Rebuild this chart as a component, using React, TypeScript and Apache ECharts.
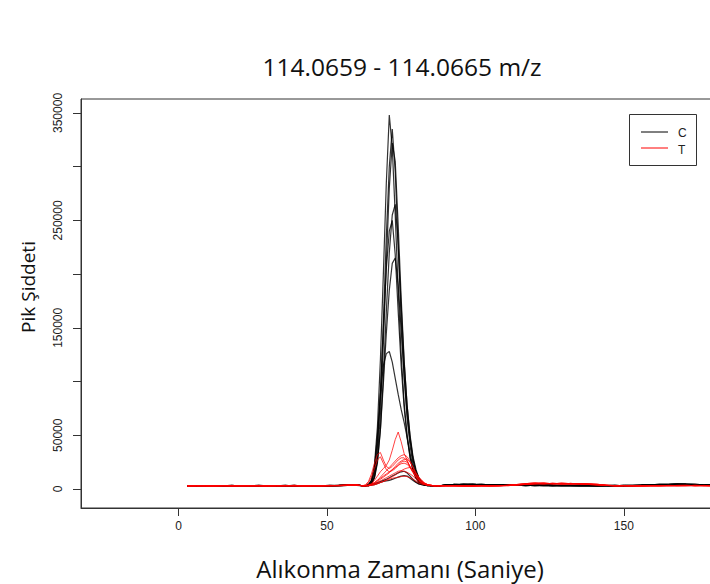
import React, { useEffect, useRef } from "react";
import * as echarts from "echarts";

// Retention-time grid (seconds): sparse on the flat stretches, 1 s across the peak.
const LEFT_T = [3, 6, 9, 12, 15, 18, 21, 24, 27, 30, 33, 36, 39, 42, 45, 48, 51, 54, 57, 60];
const PEAK_T = [62, 63, 64, 65, 66, 67, 68, 69, 70, 71, 72, 73, 74, 75, 76, 77, 78, 79, 80, 81, 82, 83, 84, 85, 86, 87, 88];
const RIGHT_T = [90, 93, 96, 99, 102, 105, 108, 111, 114, 117, 120, 123, 126, 129, 132, 135, 138, 141, 144, 147, 150, 153, 156, 159, 162, 165, 168, 171, 174, 177, 180];

// Baseline intensities (thousands) before the peak.
const BASE_L_A = [2.8, 3.1, 2.6, 3.0, 2.9, 3.3, 2.7, 3.0, 3.2, 2.8, 3.1, 2.9, 3.4, 2.7, 3.0, 3.2, 2.9, 3.3, 3.5, 3.6];
const BASE_L_B = [3.0, 2.7, 3.2, 2.9, 3.1, 2.6, 3.0, 2.8, 3.3, 3.0, 2.7, 3.1, 2.9, 3.2, 2.8, 3.0, 3.3, 3.1, 3.4, 3.8];
const BASE_L_C = [2.6, 2.9, 3.0, 2.7, 3.2, 3.0, 2.8, 3.1, 2.7, 3.0, 3.2, 2.8, 3.0, 2.9, 3.1, 2.7, 3.0, 3.2, 3.6, 3.4];
const BASE_L_D = [3.2, 2.8, 2.9, 3.1, 2.7, 3.0, 3.2, 2.6, 3.0, 3.1, 2.9, 3.3, 2.8, 3.0, 3.2, 2.9, 3.1, 3.4, 3.9, 4.1];
const BASE_L_E = [2.9, 3.2, 2.8, 2.6, 3.0, 2.9, 3.1, 3.2, 2.8, 2.7, 3.0, 3.2, 3.1, 2.8, 2.9, 3.1, 3.2, 3.0, 3.3, 3.5];

// Baseline intensities (thousands) after the peak.
const BASE_R_C1 = [3.6, 4.1, 4.4, 4.0, 4.3, 3.9, 3.7, 3.6, 3.5, 3.4, 3.3, 3.5, 3.2, 3.4, 3.3, 3.1, 3.3, 3.2, 3.0, 3.1, 3.2, 3.4, 3.5, 3.8, 4.2, 4.4, 4.6, 4.3, 4.1, 3.9, 3.7];
const BASE_R_C2 = [3.4, 4.3, 3.9, 4.2, 3.8, 4.1, 3.5, 3.7, 3.3, 3.6, 3.1, 3.3, 3.5, 3.0, 3.2, 3.4, 3.0, 3.3, 3.1, 2.9, 3.3, 3.1, 3.6, 3.5, 3.9, 4.1, 4.3, 4.5, 4.0, 4.1, 3.6];
const BASE_R_C3 = [3.8, 3.9, 4.2, 4.3, 3.9, 3.6, 3.9, 3.4, 3.6, 3.2, 3.5, 3.1, 3.4, 3.2, 3.0, 3.3, 3.1, 2.9, 3.2, 3.3, 3.0, 3.2, 3.3, 3.6, 3.8, 4.0, 4.2, 4.1, 4.4, 3.8, 3.9];
const BASE_R_T1 = [3.2, 2.9, 2.7, 3.0, 2.8, 3.1, 2.9, 3.3, 4.2, 5.0, 5.6, 5.2, 4.8, 5.4, 5.0, 4.6, 4.9, 4.4, 3.6, 3.1, 2.9, 3.0, 2.8, 3.1, 3.0, 3.3, 3.2, 3.0, 3.4, 3.1, 2.9];
const BASE_R_T2 = [3.0, 3.1, 2.8, 2.9, 3.2, 2.8, 3.0, 3.5, 4.0, 4.6, 5.0, 4.7, 5.3, 4.9, 4.5, 5.1, 4.4, 4.0, 3.3, 3.0, 3.1, 2.8, 3.0, 3.2, 2.9, 3.1, 3.3, 3.4, 3.1, 3.0, 3.2];
const BASE_R_T3 = [2.8, 3.0, 3.2, 2.7, 3.0, 2.9, 3.2, 3.1, 3.6, 4.3, 4.8, 5.5, 4.9, 4.6, 5.2, 4.8, 4.2, 3.8, 3.4, 2.9, 3.2, 3.1, 2.9, 2.8, 3.2, 3.0, 2.9, 3.2, 3.0, 3.3, 3.0];

// Peak region intensities (thousands), group C.
const C1 = [3, 3, 4, 8, 22, 58, 120, 200, 285, 348, 318, 255, 185, 125, 80, 50, 30, 17, 10, 6, 4.5, 3.5, 3, 3, 3, 3, 3];
const C2 = [3, 3, 3.5, 6, 15, 38, 85, 155, 235, 300, 335, 295, 225, 158, 105, 66, 40, 23, 13, 8, 5, 4, 3.5, 3, 3, 3, 3];
const C3 = [3, 3, 3, 5, 12, 30, 70, 135, 210, 280, 322, 305, 245, 178, 120, 78, 48, 28, 16, 9, 6, 4.5, 3.5, 3, 3, 3, 3];
const C4 = [3, 3, 3, 5, 10, 24, 55, 105, 165, 220, 255, 265, 228, 170, 118, 78, 50, 30, 18, 10, 6.5, 4.5, 3.5, 3, 3, 3, 3];
const C5 = [3, 3, 4, 7, 18, 45, 92, 150, 205, 240, 250, 218, 165, 115, 76, 48, 29, 17, 10, 6, 4.5, 3.5, 3, 3, 3, 3, 3];
const C6 = [3, 3, 3, 5, 11, 26, 55, 98, 145, 185, 210, 215, 190, 148, 105, 70, 45, 27, 16, 10, 6.5, 4.5, 3.5, 3, 3, 3, 3];
const C7 = [3, 3, 4, 8, 20, 50, 88, 115, 126, 128, 118, 103, 88, 74, 62, 48, 33, 20, 12, 7, 5, 4, 3.5, 3, 3, 3, 3];
const C8 = [3, 3, 3.5, 4, 5, 6, 7, 8, 9, 10.5, 12, 13.5, 15, 16, 16.5, 15, 12, 9, 6.5, 5, 4, 3.5, 3, 3, 3, 3, 3];
const C9 = [3, 3, 3, 3.5, 4, 5, 6, 7, 7.5, 8, 9, 10, 11, 12, 12.5, 12, 10, 8, 6, 4.5, 4, 3.5, 3, 3, 3, 3, 3];

// Peak region intensities (thousands), group T.
const T1 = [3, 3, 3.5, 5, 8, 12, 16, 19, 22, 27, 36, 46, 53, 44, 33, 27, 20, 15, 11, 8, 6, 4.5, 4, 3.5, 3, 3, 3];
const T2 = [3, 4, 7, 14, 24, 32, 34, 27, 21, 19, 21, 24, 27, 29, 29, 26, 21, 16, 11, 8, 6, 4.5, 3.5, 3, 3, 3, 3];
const T3 = [3, 3.5, 6, 11, 19, 27, 30, 24, 18, 16, 17, 19, 22, 25, 26, 25, 21, 16, 12, 8, 6, 4.5, 3.5, 3, 3, 3, 3];
const T4 = [3, 3, 3.5, 4.5, 6, 8, 11, 14, 17, 20, 23, 26, 29, 31, 32, 30, 26, 20, 14, 10, 7, 5, 4, 3.5, 3, 3, 3];
const T5 = [3, 3, 3, 4, 5, 7, 9, 11, 13, 15, 18, 21, 24, 26, 27.5, 28, 25, 20, 15, 11, 8, 5.5, 4, 3.5, 3, 3, 3];
const T6 = [3, 3, 3.5, 4.5, 6, 8, 10, 12, 14, 16, 18, 20, 22, 23.5, 24, 23, 20, 16, 12, 9, 6.5, 5, 4, 3.5, 3, 3, 3];
const T7 = [3, 3, 3, 3.5, 4, 5, 6, 7, 8.5, 10, 11.5, 13, 15, 17, 18.5, 19.5, 20, 18, 14, 10, 7, 5, 4, 3.5, 3, 3, 3];
const T8 = [3, 3, 3.5, 4, 5, 6, 7.5, 9, 10.5, 12, 13.5, 15, 16.5, 17, 16.5, 15.5, 14, 12, 9, 7, 5, 4, 3.5, 3, 3, 3, 3];
const T9 = [3, 3, 3, 3.5, 4, 5, 6, 7, 8, 9, 10, 10.5, 11, 11.5, 12, 11.5, 10.5, 9, 7, 5.5, 4.5, 4, 3.5, 3, 3, 3, 3];

const GROUP_C = [
  { peak: C1, left: BASE_L_A, right: BASE_R_C1 },
  { peak: C2, left: BASE_L_B, right: BASE_R_C2 },
  { peak: C3, left: BASE_L_C, right: BASE_R_C3 },
  { peak: C4, left: BASE_L_D, right: BASE_R_C1 },
  { peak: C5, left: BASE_L_E, right: BASE_R_C2 },
  { peak: C6, left: BASE_L_A, right: BASE_R_C3 },
  { peak: C7, left: BASE_L_B, right: BASE_R_C1 },
  { peak: C8, left: BASE_L_C, right: BASE_R_C2 },
  { peak: C9, left: BASE_L_D, right: BASE_R_C3 },
];
const GROUP_T = [
  { peak: T1, left: BASE_L_E, right: BASE_R_T1 },
  { peak: T2, left: BASE_L_C, right: BASE_R_T2 },
  { peak: T3, left: BASE_L_A, right: BASE_R_T3 },
  { peak: T4, left: BASE_L_B, right: BASE_R_T1 },
  { peak: T5, left: BASE_L_D, right: BASE_R_T2 },
  { peak: T6, left: BASE_L_E, right: BASE_R_T3 },
  { peak: T7, left: BASE_L_B, right: BASE_R_T1 },
  { peak: T8, left: BASE_L_C, right: BASE_R_T2 },
  { peak: T9, left: BASE_L_A, right: BASE_R_T3 },
];

const X_TICKS = [0, 50, 100, 150];
const Y_TICKS = [0, 50000, 100000, 150000, 200000, 250000, 300000, 350000];
const Y_LABELS = [0, 50000, 150000, 250000, 350000];

const TITLE = "114.0659 - 114.0665 m/z";
const X_TITLE = "Alıkonma Zamanı (Saniye)";
const Y_TITLE = "Pik Şiddeti";
const LEGEND_NAMES = ["C", "T"];

const TIMES = [...LEFT_T, ...PEAK_T, ...RIGHT_T];

function traceData(t: { peak: number[]; left: number[]; right: number[] }) {
  const vals = [...t.left, ...t.peak, ...t.right];
  return TIMES.map((x, i) => [x, vals[i] * 1000]);
}

export default function App() {
  const ref = useRef<HTMLDivElement>(null);

  useEffect(() => {
    if (!ref.current) return;
    const chart = echarts.init(ref.current, null, { renderer: "svg" });

    const mk = (t: any, name: string, color: string, width: number, opacity: number) => ({
      type: "line",
      name,
      data: traceData(t),
      symbol: "none",
      showSymbol: false,
      silent: true,
      lineStyle: { color, width, opacity },
      z: 2,
    });

    const series = [
      ...GROUP_C.map((t) => mk(t, "C", "#000000", 1.2, 0.8)),
      ...GROUP_T.map((t) => mk(t, "T", "#ff0000", 1, 0.75)),
    ];

    const labelFont = { fontFamily: "Liberation Sans, Arial, sans-serif", fontSize: 12, color: "#222" };
    const titleFont = "Open Sans, sans-serif";

    chart.setOption({
      animation: false,
      backgroundColor: "#ffffff",
      grid: {
        left: 81,
        top: 99,
        right: -10,
        bottom: 76,
        show: true,
        borderColor: "#333",
        borderWidth: 1,
        outerBoundsMode: "none",
      },
      xAxis: {
        type: "value",
        min: -32.85,
        max: 182.4,
        axisLine: { show: true, onZero: false, lineStyle: { color: "#333", width: 1 } },
        axisTick: { show: true, length: 8, customValues: X_TICKS, lineStyle: { color: "#333" } },
        axisLabel: { ...labelFont, margin: 12, customValues: X_TICKS, formatter: (v: number) => String(v) },
        splitLine: { show: false },
      },
      yAxis: {
        type: "value",
        min: -17700,
        max: 363000,
        axisLine: { show: true, onZero: false, lineStyle: { color: "#333", width: 1 } },
        axisTick: { show: true, length: 8, customValues: Y_TICKS, lineStyle: { color: "#333" } },
        axisLabel: { ...labelFont, margin: 17, rotate: 90, customValues: Y_LABELS, formatter: (v: number) => String(v) },
        splitLine: { show: false },
      },
      series,
      graphic: [
        {
          type: "text",
          x: 402,
          y: 66,
          style: { text: TITLE, font: `24.5px ${titleFont}`, fill: "#111", textAlign: "center", textVerticalAlign: "middle" },
        },
        {
          type: "text",
          x: 400,
          y: 568,
          style: { text: X_TITLE, font: `24px ${titleFont}`, fill: "#111", textAlign: "center", textVerticalAlign: "middle" },
        },
        {
          type: "text",
          x: 28,
          y: 287,
          rotation: Math.PI / 2,
          style: { text: Y_TITLE, font: `19px ${titleFont}`, fill: "#111", textAlign: "center", textVerticalAlign: "middle" },
        },
        {
          type: "group",
          z: 10,
          children: [
            { type: "rect", shape: { x: 629.5, y: 114.5, width: 67, height: 51 }, style: { fill: "#fff", stroke: "#333", lineWidth: 1 } },
            { type: "line", shape: { x1: 641, y1: 132, x2: 668, y2: 132 }, style: { stroke: "#000", lineWidth: 1 } },
            { type: "line", shape: { x1: 641, y1: 148, x2: 668, y2: 148 }, style: { stroke: "#ff0000", lineWidth: 1 } },
            { type: "text", x: 678, y: 133, style: { text: LEGEND_NAMES[0], font: "12px Liberation Sans, Arial, sans-serif", fill: "#222", textVerticalAlign: "middle" } },
            { type: "text", x: 678, y: 150, style: { text: LEGEND_NAMES[1], font: "12px Liberation Sans, Arial, sans-serif", fill: "#222", textVerticalAlign: "middle" } },
          ],
        },
      ],
    });

    return () => chart.dispose();
  }, []);

  return <div ref={ref} style={{ position: "absolute", left: 0, top: 0, width: 710, height: 584 }} />;
}
